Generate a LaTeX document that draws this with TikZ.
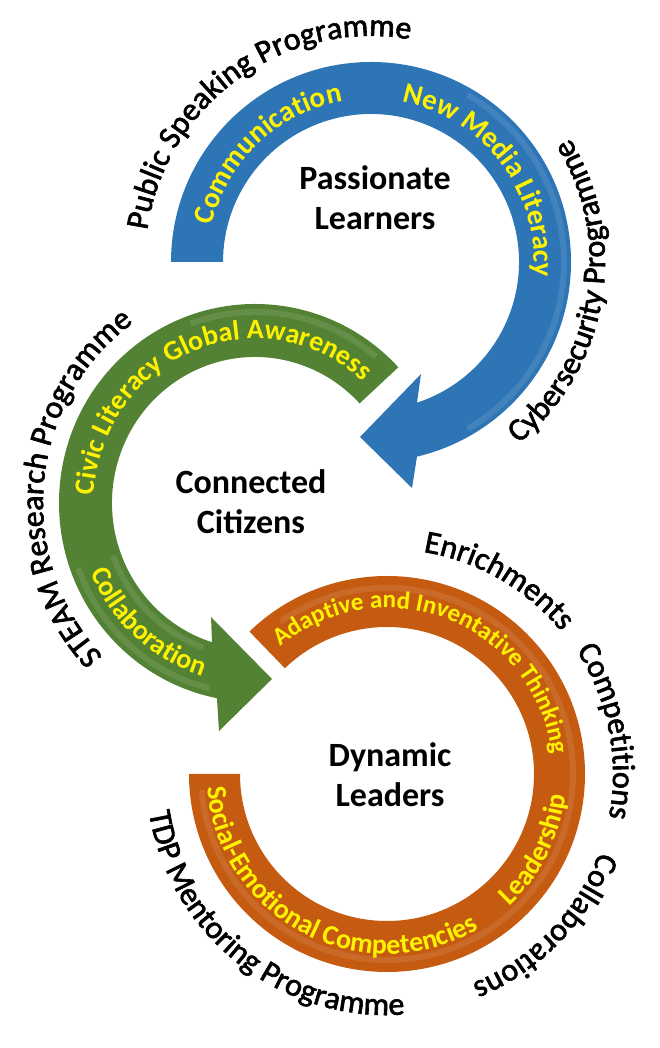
\documentclass[tikz,border=0pt]{standalone}
\usepackage{fontspec}
\setmainfont{Carlito}
\newfontfamily\outerfont[FakeBold=2]{Carlito}
\usetikzlibrary{calc,decorations.text}
\definecolor{ringblue}{HTML}{2E75B6}
\definecolor{ringgreen}{HTML}{548235}
\definecolor{ringorange}{HTML}{C55A11}
\newcommand\ybf{\fontsize{29}{29}\selectfont\bfseries\color{yellow}}
\newcommand\ygr{\fontsize{28}{28}\selectfont\bfseries\color{yellow}}
\newcommand\ysmall{\fontsize{25}{25}\selectfont\bfseries\color{yellow}}
\newcommand\ymid{\fontsize{28}{28}\selectfont\bfseries\color{yellow}}
\newcommand\kreg{\fontsize{32}{32}\selectfont\outerfont\color{black}}
% #1 centre, #2 x radius, #3 y radius, #4 start angle, #5 end angle, #6 format, #7 text
\newcommand\arctxt[7]{%
  \path[decorate,decoration={text along path,text align=center,text={|#6|#7}}]
    ($(#1)+(#4:#2 and #3)$) arc[start angle=#4,end angle=#5,x radius=#2,y radius=#3];}
\begin{document}
\begin{tikzpicture}[x=1pt,y=1pt,
  ctr/.style={align=center,font=\fontsize{34}{40}\selectfont\bfseries,inner sep=0pt},
  gloss/.style={draw=white,line width=6pt,opacity=0.1}]
\useasboundingbox (0,0) rectangle (660,1048);
\coordinate (B) at (371,786);
\coordinate (G) at (255,545);
\coordinate (O) at (387,274);
% blue arrow
\fill[ringblue] ($(B)+(180:148)$) -- ($(B)+(180:200)$)
  arc[start angle=180,end angle=-76.7,radius=200]
  -- (412,560) -- (360,611) -- (421,674)
  -- ($(B)+(-71.9:148)$) arc[start angle=-71.9,end angle=180,radius=148] -- cycle;
\draw[gloss] ($(B)+(60:193)$) arc[start angle=60,end angle=-60,radius=193];
% green arrow
\fill[ringgreen] ($(G)+(43:196 and 199)$)
  arc[start angle=43,end angle=258.8,x radius=196,y radius=199]
  -- (219,317) -- (272,369) -- (211,431)
  -- ($(G)+(252.5:143 and 146)$) arc[start angle=252.5,end angle=43,x radius=143,y radius=146] -- cycle;
\draw[gloss] ($(G)+(200:188 and 191)$) arc[start angle=200,end angle=256,x radius=188,y radius=191];
\draw[gloss] ($(G)+(200:151 and 154)$) arc[start angle=200,end angle=250,x radius=151,y radius=154];
\draw[gloss] ($(G)+(50:188 and 191)$) arc[start angle=50,end angle=110,x radius=188,y radius=191];
% orange ring
\fill[ringorange] ($(O)+(134:198)$) arc[start angle=134,end angle=-180,radius=198]
  -- ($(O)+(180:147)$) arc[start angle=-180,end angle=134,radius=147] -- cycle;
\draw[gloss] ($(O)+(125:186)$) arc[start angle=125,end angle=-175,radius=186];
% centre texts
\node[ctr] (pl) at (375,850) {Passionate\\Learners};
\node[ctr] (cc) at (251,546) {Connected\\Citizens};
\node[ctr] (dl) at (390,273) {Dynamic\\Leaders};
% blue ring texts
\arctxt{B}{163}{163}{223.5}{43.5}{\ybf}{Communication}
\arctxt{B}{163}{163}{127}{-53}{\ybf}{New Media Literacy}
\arctxt{B}{226}{226}{216}{36}{\kreg}{Public Speaking Programme}
\arctxt{B}{234}{234}{-99.5}{80.5}{\kreg}{Cybersecurity Programme}
% green ring texts
\arctxt{G}{161}{164}{202.5}{22.5}{\ygr}{Civic Literacy Global Awareness}
\arctxt{G}{178}{181}{138}{318}{\ygr}{Collaboration}
\arctxt{G}{212}{220}{264.5}{84.5}{\kreg}{STEAM Research Programme}
% orange ring texts
\arctxt{O}{166}{166}{158.5}{-21.5}{\ysmall}{Adaptive and Inventative Thinking}
\arctxt{O}{180}{180}{-117}{63}{\ymid}{Leadership}
\arctxt{O}{180}{180}{152.5}{332.5}{\ymid}{Social-Emotional Competencies}
\arctxt{O}{225}{225}{150}{-30}{\kreg}{Enrichments}
\arctxt{O}{226}{226}{101}{-79}{\kreg}{Competitions}
\arctxt{O}{226}{226}{46}{-134}{\kreg}{Collaborations}
\arctxt{O}{241}{241}{141.7}{321.7}{\kreg}{TDP Mentoring Programme}
\end{tikzpicture}
\end{document}
